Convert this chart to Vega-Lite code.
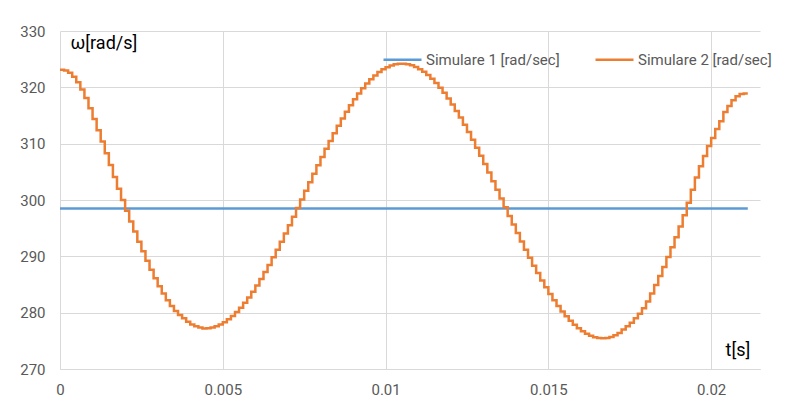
{
  "$schema": "https://vega.github.io/schema/vega-lite/v6.json",
  "width": 700,
  "height": 338,
  "autosize": "none",
  "padding": {"left": 60, "top": 31, "right": 31, "bottom": 33},
  "background": "white",
  "config": {"view": {"stroke": null}, "font": "Roboto"},
  "data": {"values": [
    {"t": 0, "w": 298.5, "s": "Simulare 1 [rad/sec]"},
    {"t": 0.021125, "w": 298.5, "s": "Simulare 1 [rad/sec]"},
    {"t": 0, "w": 323.1, "s": "Simulare 2 [rad/sec]"},
    {"t": 0.000125, "w": 323.0, "s": "Simulare 2 [rad/sec]"},
    {"t": 0.00025, "w": 322.6, "s": "Simulare 2 [rad/sec]"},
    {"t": 0.000375, "w": 321.9, "s": "Simulare 2 [rad/sec]"},
    {"t": 0.0005, "w": 320.9, "s": "Simulare 2 [rad/sec]"},
    {"t": 0.000625, "w": 319.6, "s": "Simulare 2 [rad/sec]"},
    {"t": 0.00075, "w": 318.1, "s": "Simulare 2 [rad/sec]"},
    {"t": 0.000875, "w": 316.3, "s": "Simulare 2 [rad/sec]"},
    {"t": 0.001, "w": 314.4, "s": "Simulare 2 [rad/sec]"},
    {"t": 0.001125, "w": 312.4, "s": "Simulare 2 [rad/sec]"},
    {"t": 0.00125, "w": 310.4, "s": "Simulare 2 [rad/sec]"},
    {"t": 0.001375, "w": 308.3, "s": "Simulare 2 [rad/sec]"},
    {"t": 0.0015, "w": 306.2, "s": "Simulare 2 [rad/sec]"},
    {"t": 0.001625, "w": 304.1, "s": "Simulare 2 [rad/sec]"},
    {"t": 0.00175, "w": 302.0, "s": "Simulare 2 [rad/sec]"},
    {"t": 0.001875, "w": 300.0, "s": "Simulare 2 [rad/sec]"},
    {"t": 0.002, "w": 298.1, "s": "Simulare 2 [rad/sec]"},
    {"t": 0.002125, "w": 296.2, "s": "Simulare 2 [rad/sec]"},
    {"t": 0.00225, "w": 294.4, "s": "Simulare 2 [rad/sec]"},
    {"t": 0.002375, "w": 292.6, "s": "Simulare 2 [rad/sec]"},
    {"t": 0.0025, "w": 290.9, "s": "Simulare 2 [rad/sec]"},
    {"t": 0.002625, "w": 289.2, "s": "Simulare 2 [rad/sec]"},
    {"t": 0.00275, "w": 287.6, "s": "Simulare 2 [rad/sec]"},
    {"t": 0.002875, "w": 286.1, "s": "Simulare 2 [rad/sec]"},
    {"t": 0.003, "w": 284.7, "s": "Simulare 2 [rad/sec]"},
    {"t": 0.003125, "w": 283.4, "s": "Simulare 2 [rad/sec]"},
    {"t": 0.00325, "w": 282.2, "s": "Simulare 2 [rad/sec]"},
    {"t": 0.003375, "w": 281.2, "s": "Simulare 2 [rad/sec]"},
    {"t": 0.0035, "w": 280.3, "s": "Simulare 2 [rad/sec]"},
    {"t": 0.003625, "w": 279.6, "s": "Simulare 2 [rad/sec]"},
    {"t": 0.00375, "w": 279.0, "s": "Simulare 2 [rad/sec]"},
    {"t": 0.003875, "w": 278.4, "s": "Simulare 2 [rad/sec]"},
    {"t": 0.004, "w": 277.9, "s": "Simulare 2 [rad/sec]"},
    {"t": 0.004125, "w": 277.6, "s": "Simulare 2 [rad/sec]"},
    {"t": 0.00425, "w": 277.35, "s": "Simulare 2 [rad/sec]"},
    {"t": 0.004375, "w": 277.2, "s": "Simulare 2 [rad/sec]"},
    {"t": 0.0045, "w": 277.23, "s": "Simulare 2 [rad/sec]"},
    {"t": 0.004625, "w": 277.35, "s": "Simulare 2 [rad/sec]"},
    {"t": 0.00475, "w": 277.57, "s": "Simulare 2 [rad/sec]"},
    {"t": 0.004875, "w": 277.89, "s": "Simulare 2 [rad/sec]"},
    {"t": 0.005, "w": 278.30, "s": "Simulare 2 [rad/sec]"},
    {"t": 0.005125, "w": 278.81, "s": "Simulare 2 [rad/sec]"},
    {"t": 0.00525, "w": 279.41, "s": "Simulare 2 [rad/sec]"},
    {"t": 0.005375, "w": 280.11, "s": "Simulare 2 [rad/sec]"},
    {"t": 0.0055, "w": 280.89, "s": "Simulare 2 [rad/sec]"},
    {"t": 0.005625, "w": 281.75, "s": "Simulare 2 [rad/sec]"},
    {"t": 0.00575, "w": 282.70, "s": "Simulare 2 [rad/sec]"},
    {"t": 0.005875, "w": 283.72, "s": "Simulare 2 [rad/sec]"},
    {"t": 0.006, "w": 284.81, "s": "Simulare 2 [rad/sec]"},
    {"t": 0.006125, "w": 285.97, "s": "Simulare 2 [rad/sec]"},
    {"t": 0.00625, "w": 287.20, "s": "Simulare 2 [rad/sec]"},
    {"t": 0.006375, "w": 288.48, "s": "Simulare 2 [rad/sec]"},
    {"t": 0.0065, "w": 289.82, "s": "Simulare 2 [rad/sec]"},
    {"t": 0.006625, "w": 291.19, "s": "Simulare 2 [rad/sec]"},
    {"t": 0.00675, "w": 292.60, "s": "Simulare 2 [rad/sec]"},
    {"t": 0.006875, "w": 294.05, "s": "Simulare 2 [rad/sec]"},
    {"t": 0.007, "w": 295.54, "s": "Simulare 2 [rad/sec]"},
    {"t": 0.007125, "w": 297.04, "s": "Simulare 2 [rad/sec]"},
    {"t": 0.00725, "w": 298.56, "s": "Simulare 2 [rad/sec]"},
    {"t": 0.007375, "w": 300.09, "s": "Simulare 2 [rad/sec]"},
    {"t": 0.0075, "w": 301.62, "s": "Simulare 2 [rad/sec]"},
    {"t": 0.007625, "w": 303.14, "s": "Simulare 2 [rad/sec]"},
    {"t": 0.00775, "w": 304.66, "s": "Simulare 2 [rad/sec]"},
    {"t": 0.007875, "w": 306.16, "s": "Simulare 2 [rad/sec]"},
    {"t": 0.008, "w": 307.64, "s": "Simulare 2 [rad/sec]"},
    {"t": 0.008125, "w": 309.08, "s": "Simulare 2 [rad/sec]"},
    {"t": 0.00825, "w": 310.49, "s": "Simulare 2 [rad/sec]"},
    {"t": 0.008375, "w": 311.87, "s": "Simulare 2 [rad/sec]"},
    {"t": 0.0085, "w": 313.19, "s": "Simulare 2 [rad/sec]"},
    {"t": 0.008625, "w": 314.45, "s": "Simulare 2 [rad/sec]"},
    {"t": 0.00875, "w": 315.66, "s": "Simulare 2 [rad/sec]"},
    {"t": 0.008875, "w": 316.81, "s": "Simulare 2 [rad/sec]"},
    {"t": 0.009, "w": 317.89, "s": "Simulare 2 [rad/sec]"},
    {"t": 0.009125, "w": 318.90, "s": "Simulare 2 [rad/sec]"},
    {"t": 0.00925, "w": 319.83, "s": "Simulare 2 [rad/sec]"},
    {"t": 0.009375, "w": 320.67, "s": "Simulare 2 [rad/sec]"},
    {"t": 0.0095, "w": 321.44, "s": "Simulare 2 [rad/sec]"},
    {"t": 0.009625, "w": 322.11, "s": "Simulare 2 [rad/sec]"},
    {"t": 0.00975, "w": 322.70, "s": "Simulare 2 [rad/sec]"},
    {"t": 0.009875, "w": 323.19, "s": "Simulare 2 [rad/sec]"},
    {"t": 0.01, "w": 323.58, "s": "Simulare 2 [rad/sec]"},
    {"t": 0.010125, "w": 323.88, "s": "Simulare 2 [rad/sec]"},
    {"t": 0.01025, "w": 324.08, "s": "Simulare 2 [rad/sec]"},
    {"t": 0.010375, "w": 324.19, "s": "Simulare 2 [rad/sec]"},
    {"t": 0.0105, "w": 324.20, "s": "Simulare 2 [rad/sec]"},
    {"t": 0.010625, "w": 324.10, "s": "Simulare 2 [rad/sec]"},
    {"t": 0.01075, "w": 323.91, "s": "Simulare 2 [rad/sec]"},
    {"t": 0.010875, "w": 323.62, "s": "Simulare 2 [rad/sec]"},
    {"t": 0.011, "w": 323.23, "s": "Simulare 2 [rad/sec]"},
    {"t": 0.011125, "w": 322.75, "s": "Simulare 2 [rad/sec]"},
    {"t": 0.01125, "w": 322.18, "s": "Simulare 2 [rad/sec]"},
    {"t": 0.011375, "w": 321.52, "s": "Simulare 2 [rad/sec]"},
    {"t": 0.0115, "w": 320.77, "s": "Simulare 2 [rad/sec]"},
    {"t": 0.011625, "w": 319.93, "s": "Simulare 2 [rad/sec]"},
    {"t": 0.01175, "w": 319.02, "s": "Simulare 2 [rad/sec]"},
    {"t": 0.011875, "w": 318.03, "s": "Simulare 2 [rad/sec]"},
    {"t": 0.012, "w": 316.96, "s": "Simulare 2 [rad/sec]"},
    {"t": 0.012125, "w": 315.82, "s": "Simulare 2 [rad/sec]"},
    {"t": 0.01225, "w": 314.63, "s": "Simulare 2 [rad/sec]"},
    {"t": 0.012375, "w": 313.37, "s": "Simulare 2 [rad/sec]"},
    {"t": 0.0125, "w": 312.05, "s": "Simulare 2 [rad/sec]"},
    {"t": 0.012625, "w": 310.68, "s": "Simulare 2 [rad/sec]"},
    {"t": 0.01275, "w": 309.28, "s": "Simulare 2 [rad/sec]"},
    {"t": 0.012875, "w": 307.85, "s": "Simulare 2 [rad/sec]"},
    {"t": 0.013, "w": 306.37, "s": "Simulare 2 [rad/sec]"},
    {"t": 0.013125, "w": 304.87, "s": "Simulare 2 [rad/sec]"},
    {"t": 0.01325, "w": 303.34, "s": "Simulare 2 [rad/sec]"},
    {"t": 0.013375, "w": 301.81, "s": "Simulare 2 [rad/sec]"},
    {"t": 0.0135, "w": 300.26, "s": "Simulare 2 [rad/sec]"},
    {"t": 0.013625, "w": 298.72, "s": "Simulare 2 [rad/sec]"},
    {"t": 0.01375, "w": 297.17, "s": "Simulare 2 [rad/sec]"},
    {"t": 0.013875, "w": 295.64, "s": "Simulare 2 [rad/sec]"},
    {"t": 0.014, "w": 294.13, "s": "Simulare 2 [rad/sec]"},
    {"t": 0.014125, "w": 292.63, "s": "Simulare 2 [rad/sec]"},
    {"t": 0.01425, "w": 291.18, "s": "Simulare 2 [rad/sec]"},
    {"t": 0.014375, "w": 289.74, "s": "Simulare 2 [rad/sec]"},
    {"t": 0.0145, "w": 288.35, "s": "Simulare 2 [rad/sec]"},
    {"t": 0.014625, "w": 287.02, "s": "Simulare 2 [rad/sec]"},
    {"t": 0.01475, "w": 285.73, "s": "Simulare 2 [rad/sec]"},
    {"t": 0.014875, "w": 284.51, "s": "Simulare 2 [rad/sec]"},
    {"t": 0.015, "w": 283.33, "s": "Simulare 2 [rad/sec]"},
    {"t": 0.015125, "w": 282.22, "s": "Simulare 2 [rad/sec]"},
    {"t": 0.01525, "w": 281.18, "s": "Simulare 2 [rad/sec]"},
    {"t": 0.015375, "w": 280.20, "s": "Simulare 2 [rad/sec]"},
    {"t": 0.0155, "w": 279.35, "s": "Simulare 2 [rad/sec]"},
    {"t": 0.015625, "w": 278.55, "s": "Simulare 2 [rad/sec]"},
    {"t": 0.01575, "w": 277.84, "s": "Simulare 2 [rad/sec]"},
    {"t": 0.015875, "w": 277.22, "s": "Simulare 2 [rad/sec]"},
    {"t": 0.016, "w": 276.69, "s": "Simulare 2 [rad/sec]"},
    {"t": 0.016125, "w": 276.25, "s": "Simulare 2 [rad/sec]"},
    {"t": 0.01625, "w": 275.90, "s": "Simulare 2 [rad/sec]"},
    {"t": 0.016375, "w": 275.65, "s": "Simulare 2 [rad/sec]"},
    {"t": 0.0165, "w": 275.50, "s": "Simulare 2 [rad/sec]"},
    {"t": 0.016625, "w": 275.45, "s": "Simulare 2 [rad/sec]"},
    {"t": 0.01675, "w": 275.5, "s": "Simulare 2 [rad/sec]"},
    {"t": 0.016875, "w": 275.7, "s": "Simulare 2 [rad/sec]"},
    {"t": 0.017, "w": 276.0, "s": "Simulare 2 [rad/sec]"},
    {"t": 0.017125, "w": 276.4, "s": "Simulare 2 [rad/sec]"},
    {"t": 0.01725, "w": 277.0, "s": "Simulare 2 [rad/sec]"},
    {"t": 0.017375, "w": 277.6, "s": "Simulare 2 [rad/sec]"},
    {"t": 0.0175, "w": 278.2, "s": "Simulare 2 [rad/sec]"},
    {"t": 0.017625, "w": 279.0, "s": "Simulare 2 [rad/sec]"},
    {"t": 0.01775, "w": 279.8, "s": "Simulare 2 [rad/sec]"},
    {"t": 0.017875, "w": 280.8, "s": "Simulare 2 [rad/sec]"},
    {"t": 0.018, "w": 282.0, "s": "Simulare 2 [rad/sec]"},
    {"t": 0.018125, "w": 283.4, "s": "Simulare 2 [rad/sec]"},
    {"t": 0.01825, "w": 284.9, "s": "Simulare 2 [rad/sec]"},
    {"t": 0.018375, "w": 286.5, "s": "Simulare 2 [rad/sec]"},
    {"t": 0.0185, "w": 288.1, "s": "Simulare 2 [rad/sec]"},
    {"t": 0.018625, "w": 289.9, "s": "Simulare 2 [rad/sec]"},
    {"t": 0.01875, "w": 291.6, "s": "Simulare 2 [rad/sec]"},
    {"t": 0.018875, "w": 293.4, "s": "Simulare 2 [rad/sec]"},
    {"t": 0.019, "w": 295.3, "s": "Simulare 2 [rad/sec]"},
    {"t": 0.019125, "w": 297.3, "s": "Simulare 2 [rad/sec]"},
    {"t": 0.01925, "w": 299.5, "s": "Simulare 2 [rad/sec]"},
    {"t": 0.019375, "w": 301.8, "s": "Simulare 2 [rad/sec]"},
    {"t": 0.0195, "w": 304.0, "s": "Simulare 2 [rad/sec]"},
    {"t": 0.019625, "w": 306.0, "s": "Simulare 2 [rad/sec]"},
    {"t": 0.01975, "w": 307.8, "s": "Simulare 2 [rad/sec]"},
    {"t": 0.019875, "w": 309.6, "s": "Simulare 2 [rad/sec]"},
    {"t": 0.02, "w": 311.0, "s": "Simulare 2 [rad/sec]"},
    {"t": 0.020125, "w": 312.6, "s": "Simulare 2 [rad/sec]"},
    {"t": 0.02025, "w": 314.0, "s": "Simulare 2 [rad/sec]"},
    {"t": 0.020375, "w": 315.6, "s": "Simulare 2 [rad/sec]"},
    {"t": 0.0205, "w": 316.7, "s": "Simulare 2 [rad/sec]"},
    {"t": 0.020625, "w": 317.7, "s": "Simulare 2 [rad/sec]"},
    {"t": 0.02075, "w": 318.4, "s": "Simulare 2 [rad/sec]"},
    {"t": 0.020875, "w": 318.8, "s": "Simulare 2 [rad/sec]"},
    {"t": 0.021, "w": 318.9, "s": "Simulare 2 [rad/sec]"},
    {"t": 0.021125, "w": 318.9, "s": "Simulare 2 [rad/sec]"}
  ]},
  "mark": {"type": "line", "interpolate": "step-after", "strokeWidth": 2.5},
  "encoding": {
    "x": {
      "field": "t", "type": "quantitative",
      "scale": {"domain": [0, 0.0215], "nice": false, "zero": false},
      "axis": {
        "values": [0, 0.005, 0.01, 0.015, 0.02],
        "format": ".3~f",
        "title": "t[s]",
        "titleAngle": 0, "titleX": 665, "titleY": -19,
        "titleAlign": "left", "titleBaseline": "middle",
        "titleFontSize": 18, "titleFontWeight": "normal", "titleColor": "#000000",
        "titleFont": "Roboto",
        "grid": true, "gridColor": "#D9D9D9", "gridWidth": 1,
        "domain": true, "domainColor": "#D9D9D9", "domainWidth": 1,
        "ticks": false,
        "labelPadding": 13, "labelFontSize": 15, "labelColor": "#595959",
        "labelFlush": false, "labelOverlap": false
      }
    },
    "y": {
      "field": "w", "type": "quantitative",
      "scale": {"domain": [270, 330], "nice": false, "zero": false},
      "axis": {
        "values": [270, 280, 290, 300, 310, 320, 330],
        "title": "ω[rad/s]",
        "titleAngle": 0, "titleX": 10, "titleY": 12,
        "titleAlign": "left", "titleBaseline": "middle",
        "titleFontSize": 18, "titleFontWeight": "normal", "titleColor": "#000000",
        "titleFont": "Roboto",
        "grid": true, "gridColor": "#D9D9D9", "gridWidth": 1,
        "domain": false, "ticks": false,
        "labelPadding": 15, "labelFontSize": 15, "labelColor": "#595959",
        "labelOverlap": false
      }
    },
    "color": {
      "field": "s", "type": "nominal",
      "scale": {"domain": ["Simulare 1 [rad/sec]", "Simulare 2 [rad/sec]"], "range": ["#5B9BD5", "#ED7D31"]},
      "legend": {
        "orient": "none", "legendX": 322, "legendY": 8,
        "direction": "horizontal", "title": null,
        "symbolType": "stroke", "symbolSize": 1444, "symbolStrokeWidth": 2.5,
        "labelFontSize": 15, "labelColor": "#595959", "labelFont": "Roboto",
        "columnPadding": 30, "labelOffset": 3
      }
    }
  }
}
